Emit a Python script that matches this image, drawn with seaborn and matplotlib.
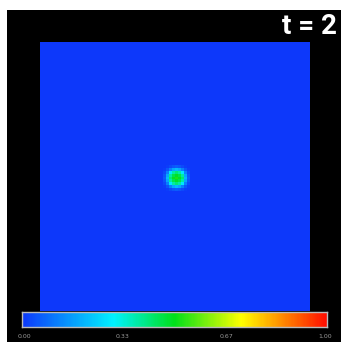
import numpy as np
import matplotlib
matplotlib.use("Agg")
import matplotlib.pyplot as plt
from matplotlib.colors import LinearSegmentedColormap
from matplotlib.patches import Rectangle
import seaborn as sns

sns.set_style("white")

# field values: zero background with a small spot in the middle
grid_size = 90
spot_values = [
    [0.00, 0.01, 0.03, 0.05, 0.06, 0.05, 0.03, 0.01, 0.00],
    [0.01, 0.05, 0.12, 0.18, 0.21, 0.18, 0.12, 0.05, 0.01],
    [0.03, 0.12, 0.28, 0.38, 0.42, 0.38, 0.28, 0.12, 0.03],
    [0.05, 0.18, 0.38, 0.46, 0.49, 0.46, 0.38, 0.18, 0.05],
    [0.06, 0.21, 0.42, 0.49, 0.52, 0.49, 0.42, 0.21, 0.06],
    [0.05, 0.18, 0.38, 0.46, 0.49, 0.46, 0.38, 0.18, 0.05],
    [0.03, 0.12, 0.28, 0.38, 0.42, 0.38, 0.28, 0.12, 0.03],
    [0.01, 0.05, 0.12, 0.18, 0.21, 0.18, 0.12, 0.05, 0.01],
    [0.00, 0.01, 0.03, 0.05, 0.06, 0.05, 0.03, 0.01, 0.00],
]
spot_row = 41
spot_col = 41

cbar_ticks = [0.0, 0.33, 0.67, 1.0]
cbar_labels = ["0.00", "0.33", "0.67", "1.00"]
time_label = "t = 2"

field = np.zeros((grid_size, grid_size))
spot = np.array(spot_values)
field[spot_row:spot_row + spot.shape[0], spot_col:spot_col + spot.shape[1]] = spot

cmap = LinearSegmentedColormap.from_list(
    "field",
    [(0.0, (0.05, 0.22, 0.98)),
     (0.30, (0.0, 0.95, 1.0)),
     (0.50, (0.0, 0.88, 0.1)),
     (0.72, (1.0, 1.0, 0.0)),
     (1.0, (1.0, 0.05, 0.0))])

W, H = 341, 342
fig = plt.figure(figsize=(W / 100, H / 100), dpi=100, facecolor="white")
fig.patches.append(Rectangle((7 / W, 0), 1, (H - 10) / H, transform=fig.transFigure,
                             facecolor="black", edgecolor="none", zorder=-5))

ax = fig.add_axes([40 / W, 31 / H, 270 / W, 269 / H])
sns.heatmap(field, ax=ax, cmap=cmap, vmin=0, vmax=1, cbar=False,
            xticklabels=False, yticklabels=False)
ax.set_axis_off()

cax = fig.add_axes([22 / W, 15 / H, 305 / W, 15 / H])
bar = np.linspace(0, 1, 256).reshape(1, -1)
sns.heatmap(bar, ax=cax, cmap=cmap, vmin=0, vmax=1, cbar=False,
            xticklabels=False, yticklabels=False)
for s in cax.spines.values():
    s.set_visible(True)
    s.set_color("#bbbbbb")
    s.set_linewidth(1)

for v, lab in zip(cbar_ticks, cbar_labels):
    x = (22 + v * 305) / W
    ha = "center"
    if v == 0.0:
        x = 18 / W
        ha = "left"
    elif v == 1.0:
        x = 332 / W
        ha = "right"
    fig.text(x, 5 / H, lab, color="#999999", fontsize=4.5, ha=ha, va="center")

fig.text(337 / W, (H - 26) / H, time_label, color="white", fontsize=20,
         fontweight="bold", ha="right", va="center",
         family=["Roboto", "DejaVu Sans"])

fig.savefig("out.png", dpi=100, facecolor="white")
